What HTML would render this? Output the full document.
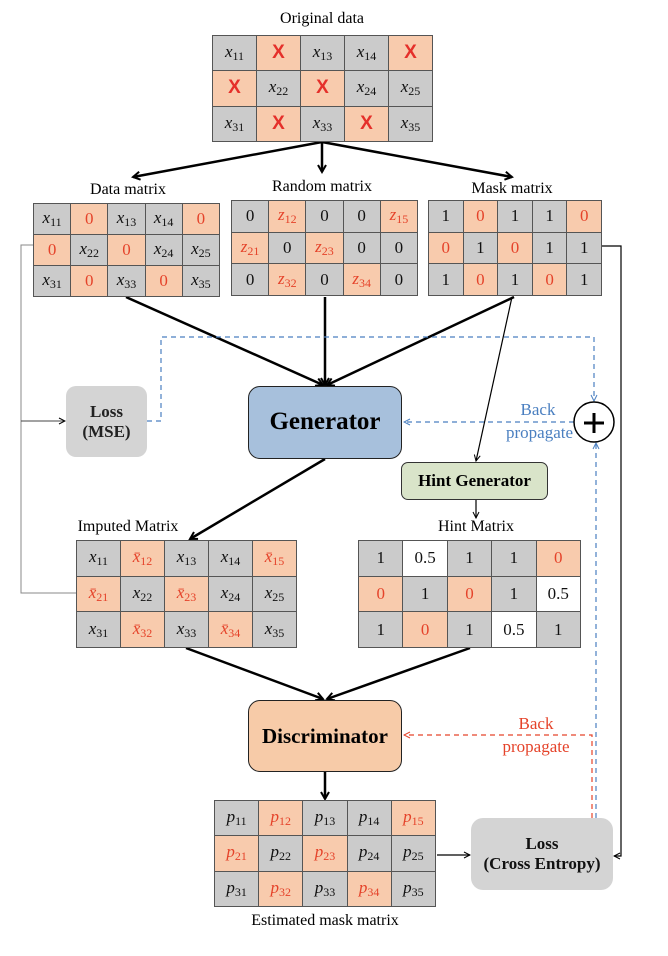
<!DOCTYPE html>
<html><head><meta charset="utf-8"><style>
body{margin:0;background:#fff;width:668px;height:956px;position:relative;overflow:hidden;font-family:"Liberation Serif",serif}
.t{position:absolute;border-collapse:collapse;table-layout:fixed}
.t td{border:1px solid #555;background:#cbcbcb;text-align:center;padding:0;font-size:17px;color:#111;font-family:"Liberation Serif",serif}
.t td.o{background:#f8cbad;color:#e5432a}
.t td.w{background:#fff}
.t td i{font-style:italic}
.t sub{font-size:12px;font-style:normal;vertical-align:-3px}
.lbl{position:absolute;font-size:16px;text-align:center;white-space:nowrap;transform:translateX(-50%)}
.box{position:absolute;box-sizing:border-box;display:flex;align-items:center;justify-content:center;text-align:center;font-weight:bold;line-height:1.15}
svg{position:absolute;left:0;top:0}
.t td.X{font-family:"Liberation Sans",sans-serif;font-weight:bold;font-size:19px;color:#e5302a}
</style></head><body>
<svg width="668" height="956">
<defs>
<marker id="a" markerWidth="10" markerHeight="10" refX="8" refY="5" orient="auto" markerUnits="userSpaceOnUse"><path d="M1,1 L8,5 L1,9" fill="none" stroke="#000" stroke-width="2"/></marker>
<marker id="s" markerWidth="8" markerHeight="8" refX="7" refY="4" orient="auto" markerUnits="userSpaceOnUse"><path d="M1,1 L7,4 L1,7" fill="none" stroke="#000" stroke-width="1"/></marker>
<marker id="b" markerWidth="8" markerHeight="8" refX="7" refY="4" orient="auto" markerUnits="userSpaceOnUse"><path d="M1,1 L7,4 L1,7" fill="none" stroke="#4a7fc0" stroke-width="1"/></marker>
<marker id="r" markerWidth="8" markerHeight="8" refX="7" refY="4" orient="auto" markerUnits="userSpaceOnUse"><path d="M1,1 L7,4 L1,7" fill="none" stroke="#e5432a" stroke-width="1"/></marker>
</defs>
<g stroke="#000" stroke-width="2.5" fill="none">
<line x1="322" y1="142" x2="133" y2="177" marker-end="url(#a)"/>
<line x1="322" y1="142" x2="322" y2="172" marker-end="url(#a)"/>
<line x1="322" y1="142" x2="512" y2="177" marker-end="url(#a)"/>
<line x1="126" y1="297" x2="323" y2="385" marker-end="url(#a)"/>
<line x1="325" y1="297" x2="325" y2="385" marker-end="url(#a)"/>
<line x1="514" y1="297" x2="327" y2="385" marker-end="url(#a)"/>
<line x1="325" y1="459" x2="190" y2="539" marker-end="url(#a)"/>
<line x1="186" y1="648" x2="323" y2="699" marker-end="url(#a)"/>
<line x1="470" y1="648" x2="327" y2="699" marker-end="url(#a)"/>
<line x1="325" y1="772" x2="325" y2="799" marker-end="url(#a)"/>
</g>
<g stroke="#000" stroke-width="1.2" fill="none">
<line x1="512" y1="297" x2="476" y2="461" marker-end="url(#s)"/>
<line x1="476" y1="500" x2="476" y2="518" marker-end="url(#s)"/>
<polyline points="602,246 621,246 621,856 614,856" marker-end="url(#s)"/>
<line x1="437" y1="855" x2="470" y2="855" marker-end="url(#s)"/>
</g>
<g stroke="#888" stroke-width="1" fill="none">
<polyline points="33,245 21,245 21,593 76,593"/>
<line x1="21" y1="421" x2="65" y2="421" stroke="#444" marker-end="url(#s)"/>
</g>
<g stroke="#4a7fc0" stroke-width="1.2" fill="none" stroke-dasharray="5,4">
<polyline points="147,421 161,421 161,337 594,337 594,401" marker-end="url(#b)"/>
<line x1="574" y1="422" x2="404" y2="422" marker-end="url(#b)"/>
<line x1="596" y1="818" x2="596" y2="443" marker-end="url(#b)"/>
</g>
<g stroke="#e5432a" stroke-width="1.2" fill="none" stroke-dasharray="5,4">
<polyline points="592,818 592,735 404,735" marker-end="url(#r)"/>
</g>
<circle cx="594" cy="422" r="20" fill="#fff" stroke="#000" stroke-width="1.5"/>
<line x1="584" y1="423" x2="604" y2="423" stroke="#000" stroke-width="3"/>
<line x1="594" y1="413" x2="594" y2="433" stroke="#000" stroke-width="3"/>
</svg>

<div class="lbl" style="left:322px;top:10px">Original data</div>
<table class="t" style="left:212px;top:35px;width:221px;height:107px"><tr><td><i>x</i><sub>11</sub></td><td class="o X">X</td><td><i>x</i><sub>13</sub></td><td><i>x</i><sub>14</sub></td><td class="o X">X</td></tr><tr><td class="o X">X</td><td><i>x</i><sub>22</sub></td><td class="o X">X</td><td><i>x</i><sub>24</sub></td><td><i>x</i><sub>25</sub></td></tr><tr><td><i>x</i><sub>31</sub></td><td class="o X">X</td><td><i>x</i><sub>33</sub></td><td class="o X">X</td><td><i>x</i><sub>35</sub></td></tr></table>

<div class="lbl" style="left:128px;top:181px">Data matrix</div>
<div class="lbl" style="left:322px;top:178px">Random matrix</div>
<div class="lbl" style="left:512px;top:180px">Mask matrix</div>
<table class="t" style="left:33px;top:203px;width:187px;height:94px"><tr><td><i>x</i><sub>11</sub></td><td class="o">0</td><td><i>x</i><sub>13</sub></td><td><i>x</i><sub>14</sub></td><td class="o">0</td></tr><tr><td class="o">0</td><td><i>x</i><sub>22</sub></td><td class="o">0</td><td><i>x</i><sub>24</sub></td><td><i>x</i><sub>25</sub></td></tr><tr><td><i>x</i><sub>31</sub></td><td class="o">0</td><td><i>x</i><sub>33</sub></td><td class="o">0</td><td><i>x</i><sub>35</sub></td></tr></table>
<table class="t" style="left:231px;top:200px;width:187px;height:96px"><tr><td>0</td><td class="o"><i>z</i><sub>12</sub></td><td>0</td><td>0</td><td class="o"><i>z</i><sub>15</sub></td></tr><tr><td class="o"><i>z</i><sub>21</sub></td><td>0</td><td class="o"><i>z</i><sub>23</sub></td><td>0</td><td>0</td></tr><tr><td>0</td><td class="o"><i>z</i><sub>32</sub></td><td>0</td><td class="o"><i>z</i><sub>34</sub></td><td>0</td></tr></table>
<table class="t" style="left:428px;top:200px;width:174px;height:96px"><tr><td>1</td><td class="o">0</td><td>1</td><td>1</td><td class="o">0</td></tr><tr><td class="o">0</td><td>1</td><td class="o">0</td><td>1</td><td>1</td></tr><tr><td>1</td><td class="o">0</td><td>1</td><td class="o">0</td><td>1</td></tr></table>

<div class="box" style="left:66px;top:386px;width:81px;height:71px;background:#d4d4d4;border-radius:10px;font-size:17px;color:#222">Loss<br>(MSE)</div>
<div class="box" style="left:248px;top:386px;width:154px;height:73px;background:#a7c0dc;border:1.5px solid #222;border-radius:12px;font-size:25px">Generator</div>
<div style="position:absolute;left:506px;top:398px;font-size:17px;color:#4a7fc0;text-align:center;line-height:23px;width:64px">Back<br>propagate</div>
<div class="box" style="left:401px;top:462px;width:147px;height:38px;background:#d9e4c9;border:1.5px solid #333;border-radius:7px;font-size:17px">Hint Generator</div>

<div class="lbl" style="left:128px;top:518px">Imputed Matrix</div>
<div class="lbl" style="left:476px;top:518px">Hint Matrix</div>
<table class="t" style="left:76px;top:540px;width:221px;height:108px"><tr><td><i>x</i><sub>11</sub></td><td class="o"><i>x̄</i><sub>12</sub></td><td><i>x</i><sub>13</sub></td><td><i>x</i><sub>14</sub></td><td class="o"><i>x̄</i><sub>15</sub></td></tr><tr><td class="o"><i>x̄</i><sub>21</sub></td><td><i>x</i><sub>22</sub></td><td class="o"><i>x̄</i><sub>23</sub></td><td><i>x</i><sub>24</sub></td><td><i>x</i><sub>25</sub></td></tr><tr><td><i>x</i><sub>31</sub></td><td class="o"><i>x̄</i><sub>32</sub></td><td><i>x</i><sub>33</sub></td><td class="o"><i>x̄</i><sub>34</sub></td><td><i>x</i><sub>35</sub></td></tr></table>
<table class="t" style="left:358px;top:540px;width:223px;height:108px"><tr><td>1</td><td class="w">0.5</td><td>1</td><td>1</td><td class="o">0</td></tr><tr><td class="o">0</td><td>1</td><td class="o">0</td><td>1</td><td class="w">0.5</td></tr><tr><td>1</td><td class="o">0</td><td>1</td><td class="w">0.5</td><td>1</td></tr></table>

<div class="box" style="left:248px;top:700px;width:154px;height:72px;background:#f7cba8;border:1.5px solid #222;border-radius:12px;font-size:21px">Discriminator</div>
<div style="position:absolute;left:501px;top:712px;font-size:17px;color:#e5432a;text-align:center;line-height:23px;width:70px">Back<br>propagate</div>

<table class="t" style="left:214px;top:800px;width:222px;height:107px"><tr><td><i>p</i><sub>11</sub></td><td class="o"><i>p</i><sub>12</sub></td><td><i>p</i><sub>13</sub></td><td><i>p</i><sub>14</sub></td><td class="o"><i>p</i><sub>15</sub></td></tr><tr><td class="o"><i>p</i><sub>21</sub></td><td><i>p</i><sub>22</sub></td><td class="o"><i>p</i><sub>23</sub></td><td><i>p</i><sub>24</sub></td><td><i>p</i><sub>25</sub></td></tr><tr><td><i>p</i><sub>31</sub></td><td class="o"><i>p</i><sub>32</sub></td><td><i>p</i><sub>33</sub></td><td class="o"><i>p</i><sub>34</sub></td><td><i>p</i><sub>35</sub></td></tr></table>
<div class="lbl" style="left:325px;top:912px">Estimated mask matrix</div>
<div class="box" style="left:471px;top:818px;width:142px;height:72px;background:#d4d4d4;border-radius:12px;font-size:17px;color:#111">Loss<br>(Cross Entropy)</div>
</body></html>
